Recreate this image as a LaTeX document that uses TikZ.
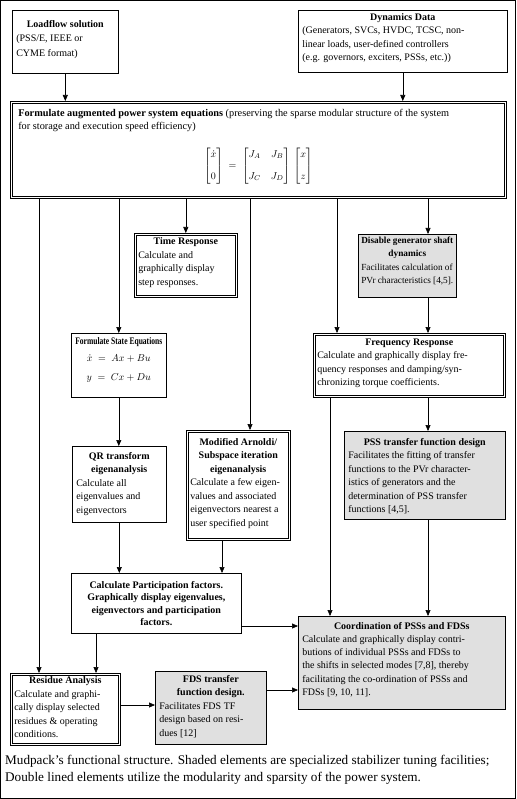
\documentclass[tikz,border=0pt]{standalone}
\usepackage{fontspec}
\setmainfont{Liberation Serif}
\usepackage{amsmath}
\usepackage{graphicx}
\usetikzlibrary{arrows.meta}
\definecolor{shadegray}{gray}{0.88}
\newcommand\bxt[4][2]{\parbox[c][#3pt][t]{\dimexpr #2pt - 8pt\relax}{\raggedright\hbadness=10000\vspace*{#1pt}#4}}
\newsavebox\ttlbox
\newcommand\ttl[1]{\sbox\ttlbox{\bfseries #1}%
  \ifdim\wd\ttlbox>\linewidth
    \makebox[\linewidth]{\resizebox{\linewidth}{\height}{\usebox\ttlbox}}%
  \else
    \makebox[\linewidth]{\usebox\ttlbox}%
  \fi\par}
\newcommand\innerline[1]{\draw[line width=0.6pt] ([shift={(2.2pt,-2.2pt)}]#1.north west) rectangle ([shift={(-2.2pt,2.2pt)}]#1.south east);}
\tikzset{
  bx/.style={draw, line width=0.6pt, inner xsep=4pt, inner ysep=0pt, anchor=north west,
    font=\fontsize{10}{13.5}\selectfont},
  dbl/.style={bx},
  shd/.style={bx, fill=shadegray},
  arr/.style={line width=0.6pt, -{Triangle[length=6pt,width=5pt]}}
}
\begin{document}
\begin{tikzpicture}[x=1pt,y=-1pt]
\useasboundingbox (0,0) rectangle (516,799);
\draw[line width=0.8pt] (0.5,0.5) rectangle (515.5,798.5);
% column / row helpers
\coordinate (c39) at (39,0);
\coordinate (c96) at (96,0);
\coordinate (c222) at (222,0);
\coordinate (c250) at (250,0);
\coordinate (c330) at (330,0);
\coordinate (c337) at (337,0);
\coordinate (c428) at (428,0);
\coordinate (r626) at (0,626);
\coordinate (r690) at (0,690);
\coordinate (r705) at (0,705);

\node[bx] (lf) at (12,10) {\bxt[10]{106}{63}{\fontsize{10}{14.5}\selectfont\ttl{Loadflow solution}(PSS/E, IEEE or\\CYME format)}};
\node[bx] (dyn) at (298,10) {\bxt[3]{209}{62}{\ttl{Dynamics Data}(Generators, SVCs, HVDC, TCSC, non-\\linear loads, user-defined controllers\\(e.g. governors, exciters, PSSs, etc.))}};

\node[dbl, inner xsep=8pt] (form) at (10,101) {\parbox[c][97pt][t]{480pt}{\raggedright\hbadness=10000\vspace*{8pt}\fontsize{10.3}{13}\selectfont\textbf{Formulate augmented power system equations} (preserving the sparse modular structure of the system\\for storage and execution speed efficiency)\par\vspace{15pt}
\makebox[\linewidth]{$\begin{bmatrix}\dot{x}\\[9pt] 0\end{bmatrix} \;=\; \begin{bmatrix}J_A & J_B\\[9pt] J_C & J_D\end{bmatrix}\,\begin{bmatrix}x\\[9pt] z\end{bmatrix}$}}};
\innerline{form}

\node[dbl] (time) at (134,233) {\bxt[4.5]{103}{64}{\ttl{Time Response}Calculate and\\graphically display\\step responses.}};
\innerline{time}
\node[shd, inner xsep=3pt] (dis) at (358,234) {\parbox[c][63pt][t]{92pt}{\raggedright\hbadness=10000\vspace*{2.5pt}\fontsize{9.3}{13.5}\selectfont\ttl{Disable generator shaft}\ttl{dynamics}Facilitates calculation of\\PVr characteristics [4,5].}};

\node[bx] (fse) at (71,333) {\bxt[4]{95}{64}{\ttl{Formulate State Equations}\vspace{4pt}\makebox[\linewidth]{$\dot{x} \;=\; Ax+Bu$}\par\vspace{5pt}\makebox[\linewidth]{$y \;=\; Cx+Du$}}};
\node[dbl] (freq) at (313,333) {\bxt[5.5]{192}{64}{\ttl{Frequency Response}Calculate and graphically display fre-\\quency responses and damping/syn-\\chronizing torque coefficients.}};
\innerline{freq}

\node[bx] (qr) at (72,446) {\bxt[6]{94}{76}{\ttl{QR transform}\ttl{eigenanalysis}Calculate all\\eigenvalues and\\eigenvectors}};
\node[dbl] (arn) at (186,430) {\bxt[8]{104}{110}{\ttl{Modified Arnoldi/}\ttl{Subspace iteration}\ttl{eigenanalysis}Calculate a few eigen-\\values and associated\\eigenvectors nearest a\\user specified point}};
\innerline{arn}
\node[shd] (pss) at (344,431) {\bxt[7]{161}{88}{\ttl{PSS transfer function design}Facilitates the fitting of transfer\\functions to the PVr character-\\istics of generators and the\\determination of PSS transfer\\functions [4,5].}};

\node[bx] (part) at (71,573) {\bxt[8]{170}{60}{\fontsize{10}{12.5}\selectfont\ttl{Calculate Participation factors.}\ttl{Graphically display eigenvalues,}\ttl{eigenvectors and participation}\ttl{factors.}}};
\node[shd] (coord) at (298,616) {\bxt[6]{207}{93}{\fontsize{10}{13.2}\selectfont\ttl{Coordination of PSSs and FDSs}Calculate and graphically display contri-\\butions of individual PSSs and FDSs to\\the shifts in selected modes [7,8], thereby\\facilitating the co-ordination of PSSs and\\FDSs [9, 10, 11].}};

\node[dbl] (res) at (10,673) {\bxt[3.5]{110}{72}{\ttl{Residue Analysis}Calculate and graphi-\\cally display selected\\residues \& operating\\conditions.}};
\innerline{res}
\node[shd] (fds) at (155,671) {\bxt[4]{111}{73}{\ttl{FDS transfer}\ttl{function design.}Facilitates FDS TF\\design based on resi-\\dues [12]}};

\node[anchor=north west, inner sep=0pt, align=left, font=\fontsize{13.2}{17}\selectfont] (cap) at (5,755)
  {Mudpack’s functional structure. Shaded elements are specialized stabilizer tuning facilities;\\Double lined elements utilize the modularity and sparsity of the power system.};

% connectors
\draw[arr] (lf.south) -- (lf.south |- form.north);
\draw[arr] (dyn.south) -- (dyn.south |- form.north);
\draw[arr] (form.south -| c39) -- (c39 |- res.north);
\draw[arr] (form.south -| fse.north) -- (fse.north);
\draw[arr] (form.south -| time.north) -- (time.north);
\draw[arr] (form.south -| c250) -- (c250 |- arn.north);
\draw[arr] (form.south -| c337) -- (c337 |- freq.north);
\draw[arr] (form.south -| c428) -- (c428 |- dis.north);
\draw[arr] (dis.south -| c428) -- (c428 |- freq.north);
\draw[arr] (freq.south -| c428) -- (c428 |- pss.north);
\draw[arr] (freq.south -| c330) -- (c330 |- coord.north);
\draw[arr] (pss.south -| c428) -- (c428 |- coord.north);
\draw[arr] (fse.south) -- (fse.south |- qr.north);
\draw[arr] (qr.south) -- (qr.south |- part.north);
\draw[arr] (arn.south -| c222) -- (c222 |- part.north);
\draw[arr] (part.south -| c96) -- (c96 |- res.north);
\draw[arr] (part.east |- r626) -- (coord.west |- r626);
\draw[arr] (res.east |- r705) -- (fds.west |- r705);
\draw[arr] (fds.east |- r690) -- (coord.west |- r690);
\end{tikzpicture}
\end{document}
